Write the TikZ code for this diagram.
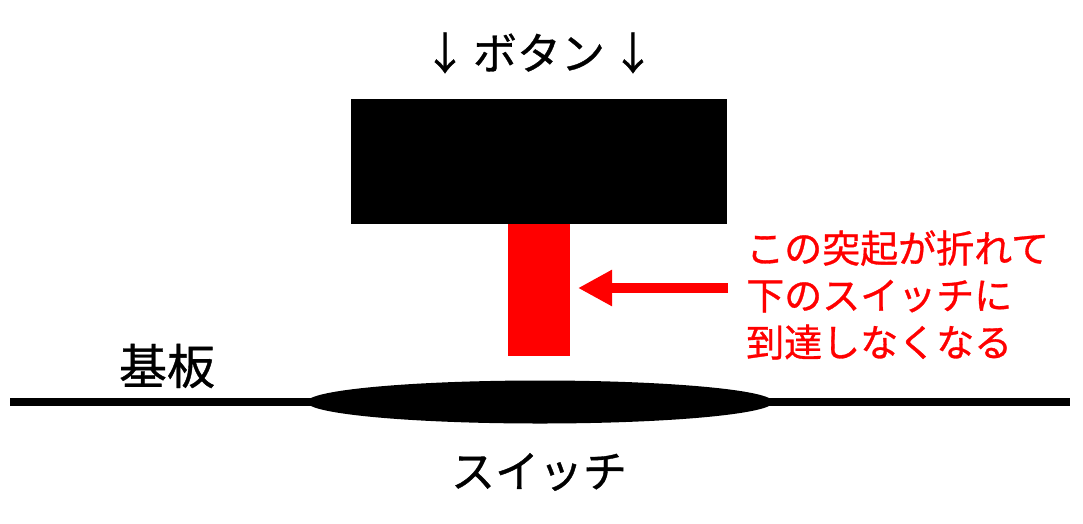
\documentclass[tikz,border=0pt]{standalone}
\usepackage{fontspec}
\setmainfont[FakeBold=0.8]{Noto Sans CJK JP}
\usetikzlibrary{arrows.meta,shapes.geometric}
\definecolor{stemred}{RGB}{255,0,0}
\tikzset{
  lbl/.style={inner sep=0pt, font=\fontsize{44}{50}\selectfont},
  note/.style={inner sep=0pt, text=stemred, align=left, font=\fontsize{38}{47}\selectfont},
}
\begin{document}
\begin{tikzpicture}[x=1pt,y=-1pt]
\useasboundingbox (0,0) rectangle (1083,523);
\fill[white] (0,0) rectangle (1083,523);
% button
\fill[black] (351,99) rectangle (727,224);
\coordinate (btn) at (539,161);
% stem
\fill[stemred] (508,224) rectangle (570,356);
\coordinate (stem) at (578,288);
% board
\coordinate (bl) at (10,402);
\coordinate (br) at (1070,402);
\draw[line width=8pt] (bl) -- (br);
% switch
\node[fill=black, ellipse, minimum width=466, minimum height=43, inner sep=0pt] (sw) at (540,402) {};
% labels
\node[lbl] (title) at (539,53) {↓\hspace{6pt}ボタン\hspace{6pt}↓};
\node[lbl, font=\fontsize{48}{52}\selectfont] (board) at (167,366) {基板};
\node[lbl] (swl) at (539,472) {スイッチ};
\node[note, anchor=west] (txt) at (746,295) {この突起が折れて\\下のスイッチに\\到達しなくなる};
\coordinate (astart) at (728,288);
\draw[stemred, line width=10pt, -{Triangle[length=34pt,width=34pt]}] (astart) -- (stem);
\end{tikzpicture}
\end{document}
